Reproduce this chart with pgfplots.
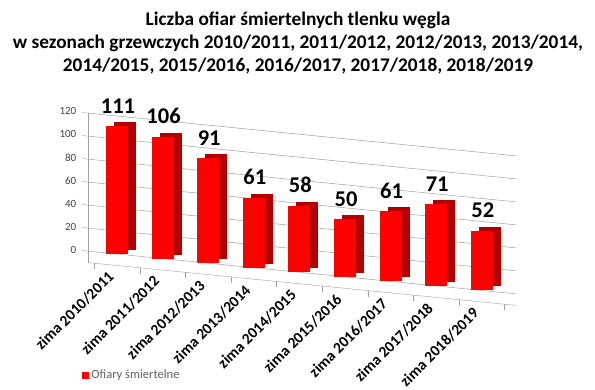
\documentclass[border=0pt]{standalone}
\usepackage{fontspec}
\setmainfont{Carlito}
\usepackage{pgfplots}
\usepackage{pgfplotstable}
\pgfplotsset{compat=1.18}
\definecolor{barred}{HTML}{FF0000}
\definecolor{bardark}{HTML}{B00000}
\definecolor{gridgray}{HTML}{A0A0A0}
\definecolor{ticktext}{HTML}{404052}
\pgfplotstableread{
x y
0 111
1 106
2 91
3 61
4 58
5 50
6 61
7 71
8 52
}\datatable
\begin{document}
\begin{tikzpicture}[x=1pt,y=1pt]
\begin{axis}[
  x={(45.6pt,-4.56pt)}, y={(0pt,1.15pt)},
  xmin=-0.64, xmax=8.75, ymin=-10, ymax=120,
  clip=false,
  axis lines*=left,
  axis line style={draw=gridgray},
  ytick={0,20,...,120},
  ymajorgrids,
  grid style={gridgray, line width=0.5pt},
  tick align=outside,
  major tick length=6pt,
  every tick/.style={draw=gridgray},
  y tick label style={font=\fontsize{11}{11}\selectfont, text=ticktext, xshift=-2pt},
  xtick={0,...,8},
  xtick style={draw=none},
  extra x ticks={-0.5,0.5,...,8.5},
  extra x tick labels={},
  extra x tick style={xtick style={draw=gridgray}},
  xticklabels={zima 2010/2011,zima 2011/2012,zima 2012/2013,zima 2013/2014,zima 2014/2015,zima 2015/2016,zima 2016/2017,zima 2017/2018,zima 2018/2019},
  x tick label style={xshift=-10pt, yshift=3pt, rotate=45, anchor=north east, inner sep=1pt, font=\bfseries\fontsize{15.5}{15.5}\selectfont},
  /pgf/number format/assume math mode=true,
  legend style={at={(-0.02,-0.362)}, anchor=west, draw=none, fill=none, font=\fontsize{12.5}{12.5}\selectfont, text=gray!75!black},
  legend image code/.code={\fill[barred] (0pt,-3.5pt) rectangle (7pt,3.5pt);},
]
\addplot[draw=none, no marks, forget plot,
  error bars/.cd, y dir=minus, y explicit, error mark=none,
  error bar style={line width=22pt, draw=bardark, xshift=8pt, yshift=4pt}]
  table[x=x, y=y, y error minus expr=\thisrow{y}] {\datatable};
\addplot[draw=none, no marks,
  nodes near coords,
  nodes near coords style={font=\bfseries\fontsize{22.5}{22.5}\selectfont, text=black, anchor=south, yshift=9pt, xshift=1pt},
  error bars/.cd, y dir=minus, y explicit, error mark=none,
  error bar style={line width=22pt, draw=barred}]
  table[x=x, y=y, y error minus expr=\thisrow{y}] {\datatable};
\addlegendentry{Ofiary śmiertelne}
\coordinate (O) at (axis cs:0,0);
\end{axis}
\pgfresetboundingbox
\begin{scope}[shift={(O)}]
\path[use as bounding box] (-117,-135) rectangle (478,254);
\begin{scope}[font=\bfseries\fontsize{19.3}{23}\selectfont]
\node[anchor=base] at (181,228) {Liczba ofiar śmiertelnych tlenku węgla};
\node[anchor=base] at (181,205) {w sezonach grzewczych 2010/2011, 2011/2012, 2012/2013, 2013/2014,};
\node[anchor=base] at (181,182) {2014/2015, 2015/2016, 2016/2017, 2017/2018, 2018/2019};
\end{scope}
\end{scope}
\end{tikzpicture}
\end{document}
